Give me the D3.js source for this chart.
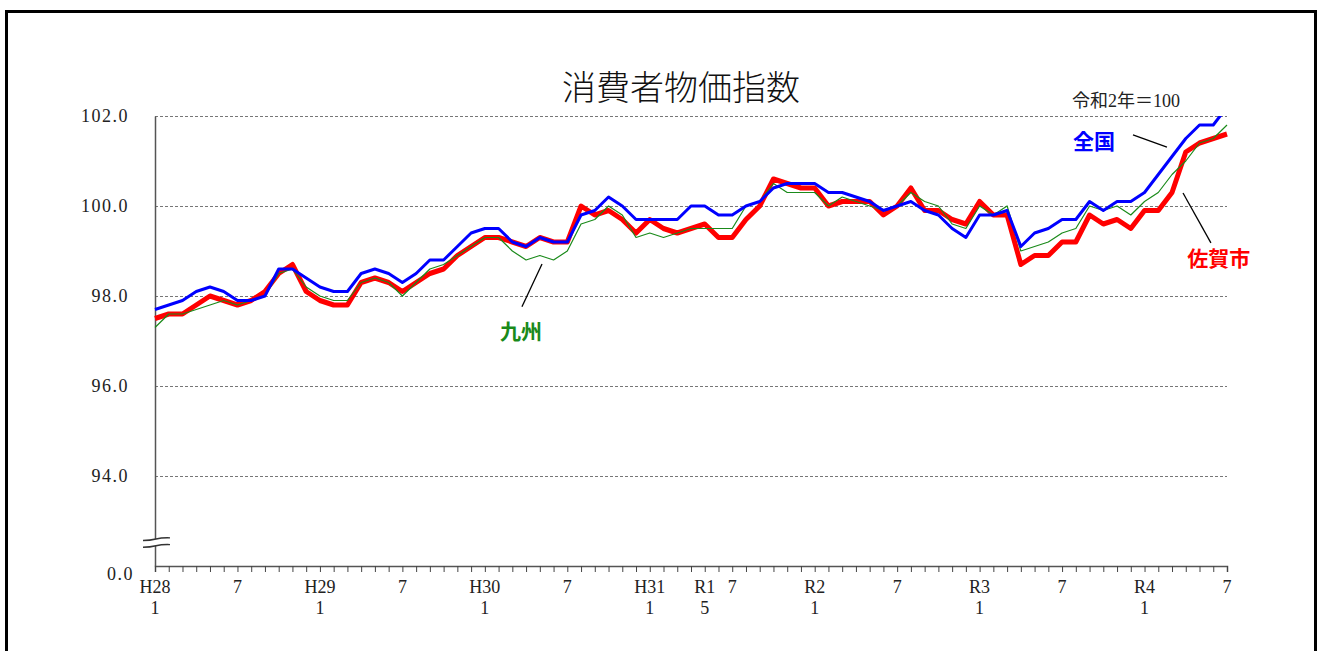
<!DOCTYPE html>
<html><head><meta charset="utf-8">
<script src="https://cdn.jsdelivr.net/npm/d3@7/dist/d3.min.js"></script>
<style>
html,body{margin:0;padding:0;background:#fff;overflow:hidden;}
svg{display:block;}
</style></head>
<body>
<svg id="chart" width="1321" height="651"></svg>
<script>
// ---- data ----
const months = d3.range(79); // H28.1 (2016-01) .. R4.7 (2022-07)
const zenkoku = [97.7,97.8,97.9,98.1,98.2,98.1,97.9,97.9,98.0,98.6,98.6,98.4,
  98.2,98.1,98.1,98.5,98.6,98.5,98.3,98.5,98.8,98.8,99.1,99.4,
  99.5,99.5,99.2,99.1,99.3,99.2,99.2,99.8,99.9,100.2,100.0,99.7,
  99.7,99.7,99.7,100.0,100.0,99.8,99.8,100.0,100.1,100.4,100.5,100.5,
  100.5,100.3,100.3,100.2,100.1,99.9,100.0,100.1,99.9,99.8,99.5,99.3,
  99.8,99.8,99.9,99.1,99.4,99.5,99.7,99.7,100.1,99.9,100.1,100.1,
  100.3,100.7,101.1,101.5,101.8,101.8,102.2];
const saga = [97.5,97.6,97.6,97.8,98.0,97.9,97.8,97.9,98.1,98.5,98.7,98.1,
  97.9,97.8,97.8,98.3,98.4,98.3,98.1,98.3,98.5,98.6,98.9,99.1,
  99.3,99.3,99.2,99.1,99.3,99.2,99.2,100.0,99.8,99.9,99.7,99.4,
  99.7,99.5,99.4,99.5,99.6,99.3,99.3,99.7,100.0,100.6,100.5,100.4,
  100.4,100.0,100.1,100.1,100.1,99.8,100.0,100.4,99.9,99.9,99.7,99.6,
  100.1,99.8,99.8,98.7,98.9,98.9,99.2,99.2,99.8,99.6,99.7,99.5,
  99.9,99.9,100.3,101.2,101.4,101.5,101.6];
const kyushu = [97.3,97.6,97.6,97.7,97.8,97.9,97.8,97.9,98.0,98.5,98.6,98.2,
  98.0,97.9,97.9,98.3,98.4,98.3,98.0,98.3,98.6,98.7,98.9,99.1,
  99.3,99.3,99.0,98.8,98.9,98.8,99.0,99.6,99.7,100.0,99.8,99.3,
  99.4,99.3,99.4,99.5,99.5,99.5,99.5,100.0,100.1,100.5,100.3,100.3,
  100.3,100.0,100.2,100.1,100.0,99.9,100.0,100.3,100.1,100.0,99.6,99.5,
  100.0,99.8,100.0,99.0,99.1,99.2,99.4,99.5,100.0,99.9,100.0,99.8,
  100.1,100.3,100.7,101.0,101.4,101.5,101.8];
const yTicks = [92,94,96,98,100,102];
const yTickLabels = ["0.0","94.0","96.0","98.0","100.0","102.0"];
const xLabelIdx = [0,6,12,18,24,30,36,40,42,48,54,60,66,72,78];
const xLabelTop = ["H28","7","H29","7","H30","7","H31","R1","7","R2","7","R3","7","R4","7"];
const xLabelBottom = ["1","","1","","1","","1","5","","1","","1","","1",""];
const titleText = "消費者物価指数";
const baseText = "令和2年＝100";

// ---- layout ----
const svg = d3.select("#chart");
const x = d3.scaleLinear().domain([0,78]).range([155,1227]);
const y = d3.scaleLinear().domain([92,102]).range([566,116]);
const serif = "'Liberation Serif','DejaVu Serif',serif";
const cjk = "'Noto Sans CJK JP','Noto Sans CJK SC',sans-serif";

// frame
svg.append("rect").attr("x",6.5).attr("y",11.5).attr("width",1309).attr("height",700)
  .attr("fill","none").attr("stroke","#000").attr("stroke-width",3);

// title
svg.append("text").attr("x",681).attr("y",100).attr("text-anchor","middle")
  .attr("font-family",cjk).attr("font-size",34).attr("font-weight",300).attr("fill","#111").text(titleText);
svg.append("text").attr("x",1072).attr("y",107)
  .attr("font-family",serif+","+cjk).attr("font-size",18).attr("fill","#222").text(baseText);

// gridlines
const grid = svg.append("g").attr("transform","translate(155,0)")
  .call(d3.axisLeft(y).tickValues(yTicks.filter(d=>d>92)).tickSize(-(1227-155)).tickFormat(""));
grid.select(".domain").remove();
grid.selectAll(".tick line").attr("stroke","#777").attr("stroke-dasharray","3,2").attr("stroke-width",1);

// y axis
const yAx = svg.append("g").attr("transform","translate(155,0)")
  .call(d3.axisLeft(y).tickValues(yTicks).tickSize(0).tickPadding(26)
    .tickFormat((d,i)=>yTickLabels[i]));
yAx.select(".domain").attr("stroke","#555").attr("stroke-width",1.5);
yAx.selectAll(".tick text").attr("font-family",serif).attr("font-size",18)
  .attr("letter-spacing","1.5px").attr("fill","#222");
yAx.selectAll(".tick").filter(d=>d===92).select("text").attr("dx",5).attr("dy","0.75em");

// axis break
const bY1 = y(92.6), bY2 = y(92.45);
svg.append("rect").attr("x",150).attr("y",bY1).attr("width",12).attr("height",bY2-bY1).attr("fill","#fff");
[bY1,bY2].forEach(b=>{
  svg.append("path").attr("d",`M143,${b+1.5} Q150,${b+1.5} 156,${b} T170,${b-1.2}`)
    .attr("fill","none").attr("stroke","#333").attr("stroke-width",1.3);
});

// x axis
const xAx = svg.append("g").attr("transform","translate(0,566)")
  .call(d3.axisBottom(x).tickValues(months).tickSize(6).tickFormat(""));
xAx.select(".domain").attr("stroke","#555").attr("stroke-width",1.5);
xAx.selectAll(".tick line").attr("stroke","#444");
const xl = svg.append("g").attr("font-family",serif).attr("font-size",18).attr("fill","#222").attr("text-anchor","middle");
xLabelIdx.forEach((m,i)=>{
  xl.append("text").attr("x",x(m)).attr("y",593).text(xLabelTop[i]);
  if (xLabelBottom[i]) xl.append("text").attr("x",x(m)).attr("y",614).text(xLabelBottom[i]);
});

// clip
svg.append("clipPath").attr("id","plot").append("rect")
  .attr("x",150).attr("y",y(102)).attr("width",1090).attr("height",y(92)-y(102));

const line = d3.line().x((d,i)=>x(months[i])).y(d=>y(d));
const lines = svg.append("g").attr("clip-path","url(#plot)").attr("fill","none")
  .attr("stroke-linejoin","round");
lines.append("path").datum(saga).attr("d",line).attr("stroke","#ff0000").attr("stroke-width",5);
lines.append("path").datum(kyushu).attr("d",line).attr("stroke","#1a8a1a").attr("stroke-width",1.2);
lines.append("path").datum(zenkoku).attr("d",line).attr("stroke","#0000ff").attr("stroke-width",3);

// annotations (data units)
const leaders = [
  {a:[71.16,101.58], b:[73.63,101.31]},
  {a:[74.8,100.29], b:[76.83,99.18]},
  {a:[28.16,98.71], b:[26.7,97.76]}
];
leaders.forEach(l=>svg.append("line")
  .attr("x1",x(l.a[0])).attr("y1",y(l.a[1])).attr("x2",x(l.b[0])).attr("y2",y(l.b[1]))
  .attr("stroke","#000").attr("stroke-width",1.3));
const labels = [
  {t:"全国", m:66.8, v:101.27, c:"#0000ff"},
  {t:"佐賀市", m:75.1, v:98.67, c:"#ff0000"},
  {t:"九州", m:25.1, v:97.04, c:"#1a8a1a"}
];
labels.forEach(l=>svg.append("text").attr("x",x(l.m)).attr("y",y(l.v))
  .attr("font-family",cjk).attr("font-weight","bold").attr("font-size",21)
  .attr("fill",l.c).text(l.t));
</script>
</body></html>
